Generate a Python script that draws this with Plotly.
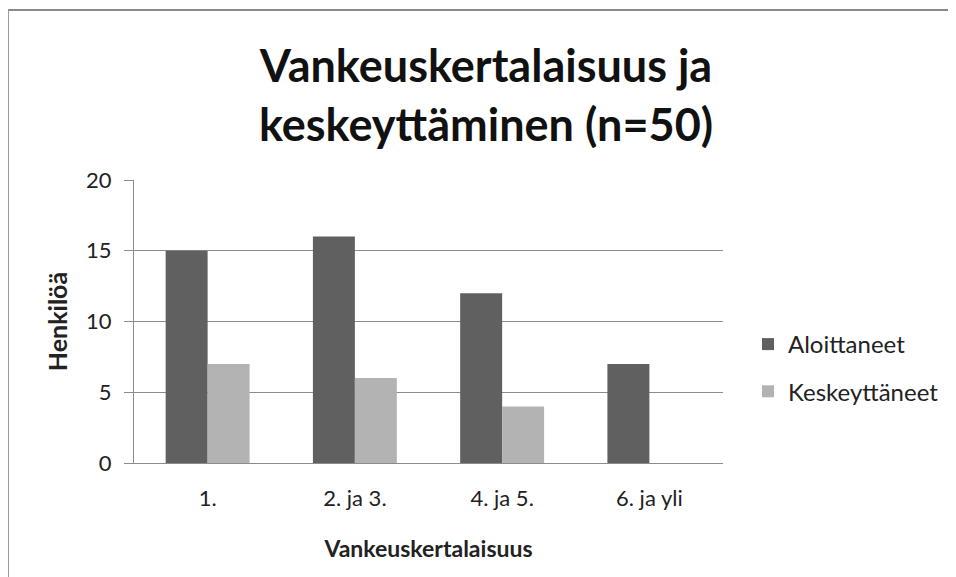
import plotly.graph_objects as go

categories = ["1.", "2. ja 3.", "4. ja 5.", "6. ja yli"]
aloittaneet = [15, 16, 12, 7]
keskeyttaneet = [7, 6, 4, 0]
series_names = ["Aloittaneet", "Keskeyttäneet"]

FONT = "Lato, Open Sans, sans-serif"

fig = go.Figure()
fig.add_trace(go.Bar(x=categories, y=aloittaneet, name=series_names[0], legendgroup="a",
                     marker=dict(color="#606060", line=dict(width=0))))
fig.add_trace(go.Bar(x=categories, y=keskeyttaneet, name=series_names[1], legendgroup="b",
                     marker=dict(color="#b3b3b3", line=dict(width=0))))

# page has an 8px body margin; work in figure coords = page coords - 8
OFF = 8
FW, FH = 956 - OFF, 577 - OFF
L, T = 134 - OFF, 180 - OFF
RIGHT, BOTTOM = 723 - OFF, 463 - OFF
R, B = FW - RIGHT, FH - BOTTOM
W, H = RIGHT - L, BOTTOM - T

def px(x):  # page x -> paper
    return (x - OFF - L) / W

def py(y):  # page y -> paper
    return (BOTTOM - (y - OFF)) / H

fig.update_layout(
    width=FW, height=FH,
    margin=dict(l=L, r=R, t=T, b=B),
    paper_bgcolor="white", plot_bgcolor="white",
    barmode="group", bargap=0.43, bargroupgap=0,
    font=dict(family=FONT, color="#222222", size=22),
    title=dict(text="<b>Vankeuskertalaisuus ja<br>keskeyttäminen (n=50)</b>",
               x=(486 - OFF) / FW, xanchor="center", y=1 - (82 - OFF) / FH, yanchor="middle",
               font=dict(size=45, family=FONT, color="#111111")),
    legend=dict(x=px(748), xanchor="left", y=py(322), yanchor="top",
                font=dict(size=24, family=FONT), tracegroupgap=13,
                traceorder="grouped"),
    showlegend=True,
)
fig.update_xaxes(showgrid=False, showline=True, linecolor="#8c8c8c", linewidth=1,
                 ticks="", tickfont=dict(size=22), ticklabelstandoff=16,
                 title=dict(text="<b>Vankeuskertalaisuus</b>", font=dict(size=23), standoff=30))
fig.update_yaxes(range=[0, 20], dtick=5, showgrid=True, gridcolor="#8c8c8c", gridwidth=1,
                 showline=True, linecolor="#8c8c8c", linewidth=1,
                 ticks="outside", ticklen=9, tickcolor="#8c8c8c",
                 tickfont=dict(size=22), ticklabelstandoff=8, zeroline=False,
                 title=dict(text="<b>Henkilöä</b>", font=dict(size=25), standoff=11))

# outer chart frame
fig.add_shape(type="line", xref="paper", yref="paper", x0=px(8), x1=px(1000), y0=py(10), y1=py(10),
              line=dict(color="#8a8a8a", width=2))
fig.add_shape(type="line", xref="paper", yref="paper", x0=px(8), x1=px(8), y0=py(10), y1=py(620),
              line=dict(color="#9a9a9a", width=2))

fig.write_html("out.html")
